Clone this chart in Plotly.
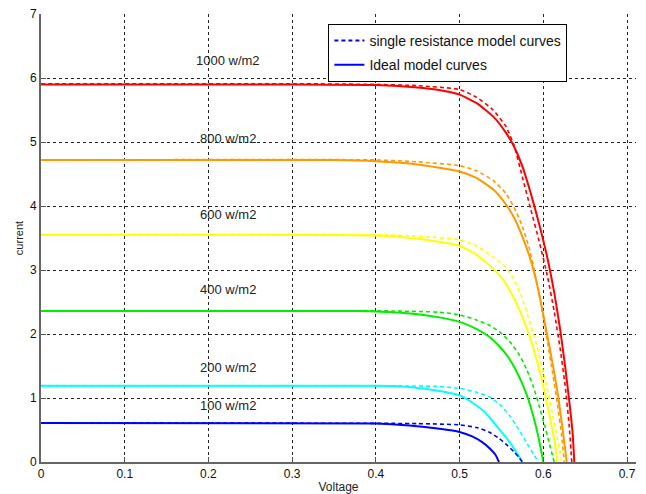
import plotly.graph_objects as go

# ---- data ----
levels = ["1000 w/m2", "800 w/m2", "600 w/m2", "400 w/m2", "200 w/m2", "100 w/m2"]
colors = ["#ff0000", "#ff9900", "#ffff00", "#00ee00", "#00ffff", "#0000ff"]

# Ideal model curves (solid)
v_ideal_1000 = [0, 0.30, 0.40, 0.45, 0.48, 0.50, 0.52, 0.54, 0.555, 0.565, 0.575, 0.585, 0.595, 0.605, 0.613, 0.620, 0.626, 0.631, 0.635, 0.637]
i_ideal_1000 = [5.90, 5.90, 5.89, 5.85, 5.80, 5.74, 5.61, 5.40, 5.15, 4.93, 4.62, 4.20, 3.72, 3.18, 2.65, 2.08, 1.50, 0.95, 0.45, 0.0]
v_ideal_800 = [0, 0.35, 0.40, 0.45, 0.50, 0.52, 0.54, 0.555, 0.565, 0.575, 0.585, 0.593, 0.600, 0.607, 0.613, 0.618, 0.623, 0.628]
i_ideal_800 = [4.72, 4.72, 4.70, 4.65, 4.54, 4.44, 4.26, 4.03, 3.82, 3.52, 3.15, 2.75, 2.30, 1.82, 1.40, 1.00, 0.52, 0.0]
v_ideal_600 = [0, 0.40, 0.45, 0.50, 0.52, 0.535, 0.55, 0.56, 0.57, 0.58, 0.588, 0.595, 0.602, 0.609, 0.614, 0.617]
i_ideal_600 = [3.55, 3.54, 3.49, 3.38, 3.24, 3.08, 2.88, 2.68, 2.42, 2.10, 1.78, 1.45, 1.07, 0.62, 0.28, 0.0]
v_ideal_400 = [0, 0.38, 0.42, 0.45, 0.476, 0.50, 0.52, 0.535, 0.548, 0.558, 0.567, 0.575, 0.582, 0.588, 0.594, 0.600]
i_ideal_400 = [2.36, 2.36, 2.34, 2.31, 2.26, 2.19, 2.08, 1.96, 1.80, 1.64, 1.44, 1.22, 0.98, 0.72, 0.40, 0.0]
v_ideal_200 = [0, 0.404, 0.44, 0.476, 0.50, 0.515, 0.53, 0.545, 0.557, 0.567, 0.575]
i_ideal_200 = [1.19, 1.19, 1.17, 1.11, 1.04, 0.93, 0.78, 0.55, 0.36, 0.17, 0.0]
v_ideal_100 = [0, 0.40, 0.44, 0.476, 0.50, 0.515, 0.527, 0.537, 0.543, 0.547]
i_ideal_100 = [0.61, 0.60, 0.57, 0.52, 0.47, 0.40, 0.31, 0.20, 0.11, 0.0]

# Single resistance model curves (dashed)
v_single_1000 = [0, 0.30, 0.40, 0.45, 0.50, 0.52, 0.54, 0.555, 0.565, 0.575, 0.585, 0.595, 0.605, 0.613, 0.620, 0.626, 0.631, 0.634]
i_single_1000 = [5.91, 5.91, 5.90, 5.88, 5.82, 5.70, 5.50, 5.25, 4.95, 4.45, 3.95, 3.45, 2.90, 2.35, 1.78, 1.20, 0.55, 0.0]
v_single_800 = [0, 0.40, 0.45, 0.50, 0.52, 0.54, 0.555, 0.565, 0.575, 0.583, 0.590, 0.597, 0.604, 0.611, 0.617, 0.622, 0.625]
i_single_800 = [4.72, 4.72, 4.69, 4.63, 4.55, 4.40, 4.20, 3.98, 3.68, 3.35, 2.95, 2.48, 1.95, 1.40, 0.90, 0.40, 0.0]
v_single_600 = [0, 0.40, 0.45, 0.50, 0.52, 0.54, 0.555, 0.565, 0.575, 0.583, 0.591, 0.598, 0.605, 0.612, 0.618, 0.622]
i_single_600 = [3.55, 3.55, 3.53, 3.47, 3.38, 3.20, 3.05, 2.85, 2.55, 2.22, 1.88, 1.52, 1.12, 0.68, 0.30, 0.0]
v_single_400 = [0, 0.42, 0.476, 0.50, 0.52, 0.535, 0.548, 0.56, 0.571, 0.58, 0.588, 0.595, 0.602, 0.608, 0.613]
i_single_400 = [2.36, 2.36, 2.34, 2.30, 2.22, 2.14, 2.03, 1.88, 1.68, 1.45, 1.18, 0.88, 0.55, 0.25, 0.0]
v_single_200 = [0, 0.42, 0.476, 0.50, 0.52, 0.535, 0.548, 0.56, 0.571, 0.58, 0.588, 0.594]
i_single_200 = [1.19, 1.19, 1.18, 1.15, 1.09, 1.02, 0.90, 0.72, 0.50, 0.30, 0.13, 0.0]
v_single_100 = [0, 0.45, 0.50, 0.52, 0.535, 0.547, 0.557, 0.565, 0.571, 0.575]
i_single_100 = [0.61, 0.60, 0.58, 0.54, 0.47, 0.37, 0.26, 0.16, 0.07, 0.0]

ideal = [(v_ideal_1000, i_ideal_1000), (v_ideal_800, i_ideal_800), (v_ideal_600, i_ideal_600),
         (v_ideal_400, i_ideal_400), (v_ideal_200, i_ideal_200), (v_ideal_100, i_ideal_100)]
single = [(v_single_1000, i_single_1000), (v_single_800, i_single_800), (v_single_600, i_single_600),
          (v_single_400, i_single_400), (v_single_200, i_single_200), (v_single_100, i_single_100)]

label_x = 0.223
label_y = [6.28, 5.05, 3.86, 2.69, 1.48, 0.89]

x_ticks = [0, 0.1, 0.2, 0.3, 0.4, 0.5, 0.6, 0.7]
y_ticks = [0, 1, 2, 3, 4, 5, 6, 7]

FONT = "Liberation Sans, Arial"

fig = go.Figure()

for (v, i), c in zip(ideal, colors):
    fig.add_trace(go.Scatter(x=v, y=i, mode="lines",
                             line=dict(color=c, width=2, shape="spline", smoothing=0.5),
                             showlegend=False, hoverinfo="skip"))
for (v, i), c in zip(single, colors):
    fig.add_trace(go.Scatter(x=v, y=i, mode="lines",
                             line=dict(color=c, width=1.6, dash="4px,3px", shape="spline", smoothing=0.5),
                             showlegend=False, hoverinfo="skip"))

# legend entries
fig.add_trace(go.Scatter(x=[None], y=[None], mode="lines", name="single resistance model curves",
                         legendgroup="a", line=dict(color="#0000ff", width=2, dash="4px,3px")))
fig.add_trace(go.Scatter(x=[None], y=[None], mode="lines", name="Ideal model curves",
                         legendgroup="b", line=dict(color="#0000ff", width=2)))

for txt, yv in zip(levels, label_y):
    fig.add_annotation(x=label_x, y=yv, text=txt, showarrow=False,
                       font=dict(family=FONT, size=13, color="#222"))

grid_common = dict(showgrid=True, gridcolor="#222", gridwidth=1, griddash="3px,3px",
                   zeroline=False, showline=True, linecolor="#666", linewidth=2,
                   ticks="inside", ticklen=5, tickcolor="#555", automargin=False,
                   tickfont=dict(family=FONT, size=12, color="#111"))

fig.update_xaxes(range=[0, 0.7107], tickvals=x_ticks, ticktext=[str(t) for t in x_ticks],
                 title=dict(text="Voltage", standoff=2,
                            font=dict(family=FONT, size=12, color="#222")),
                 **grid_common)
fig.update_yaxes(range=[0, 7], tickvals=y_ticks,
                 title=dict(text="current", standoff=4,
                            font=dict(family=FONT, size=11, color="#222")),
                 **grid_common)

fig.update_layout(
    width=646, height=494,
    margin=dict(l=41, r=10, t=14, b=32),
    paper_bgcolor="white", plot_bgcolor="white",
    legend=dict(x=0.483, y=0.978, xanchor="left", yanchor="top",
                bgcolor="white", bordercolor="#000", borderwidth=1,
                font=dict(family=FONT, size=14, color="#111"),
                itemwidth=30, tracegroupgap=3),
)

fig.write_html("out.html")
